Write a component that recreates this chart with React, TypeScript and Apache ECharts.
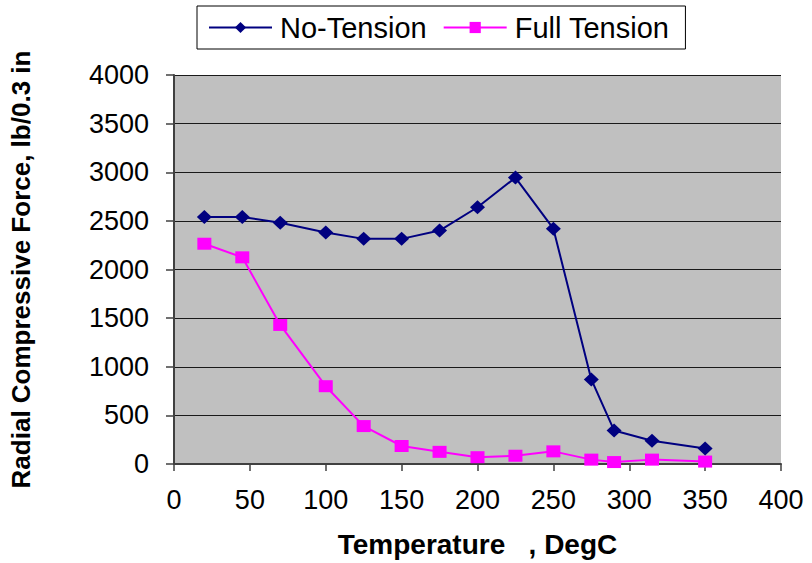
import React, { useEffect, useRef } from "react";
import * as echarts from "echarts";

const temperatures = [20, 45, 70, 100, 125, 150, 175, 200, 225, 250, 275, 290, 315, 350];
const noTension = [2540, 2540, 2480, 2380, 2315, 2315, 2400, 2640, 2945, 2420, 870, 345, 240, 160];
const fullTension = [2265, 2125, 1430, 800, 390, 185, 125, 70, 85, 130, 45, 20, 45, 25];
const seriesNames = ["No-Tension", "Full Tension"];
const xTitle = "Temperature   , DegC";
const yTitle = "Radial Compressive Force, lb/0.3 in";

const FONT = "'Liberation Sans', Arial, sans-serif";

export default function App() {
  const ref = useRef<HTMLDivElement>(null);
  useEffect(() => {
    if (!ref.current) return;
    const chart = echarts.init(ref.current, undefined, { renderer: "svg" });
    const pair = (vals: number[]) => temperatures.map((t, i) => [t, vals[i]]);
    chart.setOption({
      animation: false,
      backgroundColor: "#ffffff",
      textStyle: { fontFamily: FONT },
      legend: {
        left: 197,
        top: 6,
        padding: [7, 16, 7, 11],
        borderColor: "#000000",
        borderWidth: 1,
        itemWidth: 63,
        itemHeight: 14,
        itemGap: 16,
        textStyle: { fontSize: 29, color: "#000000", fontFamily: FONT, padding: [0, 0, 0, 3] },
        data: seriesNames,
      },
      grid: {
        left: 172,
        top: 75,
        width: 609,
        height: 389,
        show: true,
        backgroundColor: "#C0C0C0",
        borderWidth: 0,
      },
      xAxis: {
        type: "value",
        min: 0,
        max: 400,
        interval: 50,
        name: xTitle,
        nameLocation: "middle",
        nameGap: 66,
        nameTextStyle: { fontSize: 28, fontWeight: "bold", color: "#000000", fontFamily: FONT },
        axisLine: { show: true, lineStyle: { color: "#404040", width: 2 } },
        axisTick: { show: true, inside: false, length: 7, lineStyle: { color: "#404040", width: 1.5 } },
        axisLabel: { fontSize: 27, color: "#000000", margin: 22, fontFamily: FONT },
        splitLine: { show: false },
      },
      yAxis: {
        type: "value",
        min: 0,
        max: 4000,
        interval: 500,
        name: yTitle,
        nameLocation: "middle",
        nameGap: 140,
        nameTextStyle: { fontSize: 26, fontWeight: "bold", color: "#000000", fontFamily: FONT },
        axisLine: { show: true, lineStyle: { color: "#404040", width: 2 } },
        axisTick: { show: true, inside: false, length: 8, lineStyle: { color: "#404040", width: 1.5 } },
        axisLabel: {
          fontSize: 27,
          color: "#000000",
          margin: 25,
          fontFamily: FONT,
          formatter: (v: number) => String(v),
        },
        splitLine: { show: true, lineStyle: { color: "#1a1a1a", width: 1 } },
      },
      series: [
        {
          name: seriesNames[0],
          type: "line",
          data: pair(noTension),
          symbol: "diamond",
          symbolSize: [15, 14],
          color: "#000080",
          lineStyle: { color: "#000080", width: 2 },
          itemStyle: { color: "#000080" },
          z: 3,
        },
        {
          name: seriesNames[1],
          type: "line",
          data: pair(fullTension),
          symbol: "rect",
          symbolSize: [14, 12],
          color: "#FF00FF",
          lineStyle: { color: "#FF00FF", width: 2 },
          itemStyle: { color: "#FF00FF" },
          z: 2,
        },
      ],
    });
    return () => chart.dispose();
  }, []);
  return (
    <div
      ref={ref}
      style={{ position: "fixed", left: 0, top: 0, width: 812, height: 563, background: "#fff" }}
    />
  );
}
